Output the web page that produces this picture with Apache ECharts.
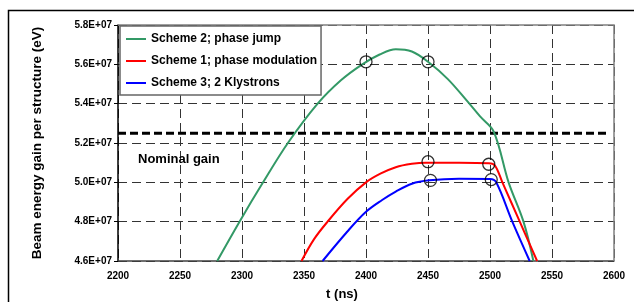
<!DOCTYPE html>
<html>
<head>
<meta charset="utf-8">
<script src="https://cdn.jsdelivr.net/npm/echarts@6/dist/echarts.min.js"></script>
<style>
  html, body { margin: 0; padding: 0; background: #fff; }
  #main { width: 634px; height: 302px; }
</style>
</head>
<body>
<div id="main"></div>
<script>
// series names (legend order)
var schemeNames = ['Scheme 2; phase jump', 'Scheme 1; phase modulation', 'Scheme 3; 2 Klystrons'];

// Scheme 2 - phase jump (t in ns, gain in eV)
var jumpT    = [2280, 2298, 2317, 2337, 2361, 2380, 2397, 2411, 2424, 2437, 2450, 2466, 2482, 2492, 2503, 2515, 2527, 2535];
var jumpGain = [4.60e7, 4.80e7, 5.00e7, 5.20e7, 5.40e7, 5.52e7, 5.60e7, 5.65e7, 5.677e7, 5.665e7, 5.613e7, 5.525e7, 5.41e7, 5.335e7, 5.258e7, 5.00e7, 4.80e7, 4.60e7];

// Scheme 1 - phase modulation
var modT    = [2348, 2358, 2369, 2385, 2400, 2412, 2424, 2437, 2448, 2475, 2499, 2504, 2510, 2524, 2538];
var modGain = [4.60e7, 4.71e7, 4.80e7, 4.915e7, 5.00e7, 5.045e7, 5.077e7, 5.094e7, 5.10e7, 5.10e7, 5.097e7, 5.085e7, 5.00e7, 4.80e7, 4.60e7];

// Scheme 3 - 2 klystrons
var klyT    = [2365, 2385, 2400, 2413, 2424, 2437, 2451, 2475, 2500, 2505, 2518, 2532];
var klyGain = [4.60e7, 4.75e7, 4.85e7, 4.91e7, 4.953e7, 4.993e7, 5.01e7, 5.018e7, 5.017e7, 5.00e7, 4.80e7, 4.60e7];

// open circle markers
var markT    = [2400, 2450, 2450, 2499, 2452, 2501];
var markGain = [5.613e7, 5.613e7, 5.105e7, 5.092e7, 5.01e7, 5.014e7];

// nominal gain line
var nominalGain = 5.25e7;
var nominalT = [2200, 2595];

// axes
var tMin = 2200, tMax = 2600, tStep = 50;
var gMin = 4.6e7, gMax = 5.8e7, gStep = 2e6;

function zip(a, b) {
  var out = [];
  for (var i = 0; i < a.length; i++) out.push([a[i], b[i]]);
  return out;
}

var colors = ['#339966', '#ff0000', '#0000ff'];
var font = 'Liberation Sans, Arial, sans-serif';

var myChart = echarts.init(document.getElementById('main'));

function curve(name, data, color) {
  return {
    name: name,
    type: 'line',
    data: data,
    smooth: 0.35,
    symbol: 'none',
    lineStyle: { color: color, width: 2 },
    itemStyle: { color: color },
    z: 3
  };
}

var option = {
  animation: false,
  backgroundColor: '#fff',
  grid: { left: 118, right: 20, top: 25, bottom: 41, outerBoundsMode: 'none' },
  legend: {
    data: schemeNames,
    orient: 'vertical',
    left: 120,
    top: 26,
    padding: [6, 4, 5, 6],
    itemGap: 8,
    itemWidth: 20,
    itemHeight: 2,
    icon: 'rect',
    backgroundColor: '#fff',
    borderColor: '#666',
    borderWidth: 1.5,
    textStyle: { fontFamily: font, fontWeight: 'bold', fontSize: 12, color: '#000', lineHeight: 14 },
    z: 10
  },
  xAxis: {
    type: 'value',
    min: tMin,
    max: tMax,
    interval: tStep,
    name: 't (ns)',
    nameLocation: 'middle',
    nameGap: 27,
    nameTextStyle: { fontFamily: font, fontWeight: 'bold', fontSize: 13, color: '#000', padding: [0, 48, 0, 0] },
    axisLine: { lineStyle: { color: '#404040', width: 1.5 } },
    axisTick: { show: false },
    axisLabel: {
      fontFamily: font, fontWeight: 'bold', fontSize: 10, color: '#000', margin: 10,
      formatter: function (v) { return String(v); }
    },
    splitLine: { show: true, lineStyle: { color: '#333', width: 1, type: [9, 5] } }
  },
  yAxis: {
    type: 'value',
    min: gMin,
    max: gMax,
    interval: gStep,
    name: 'Beam energy gain per structure (eV)',
    nameLocation: 'middle',
    nameGap: 74,
    nameTextStyle: { fontFamily: font, fontWeight: 'bold', fontSize: 13.5, color: '#000' },
    axisLine: { show: true, lineStyle: { color: '#000', width: 1.5 } },
    axisTick: { show: true, length: 4, lineStyle: { color: '#000' } },
    axisLabel: {
      fontFamily: font, fontWeight: 'bold', fontSize: 10, color: '#000', margin: 6,
      formatter: function (v) { return (v / 1e7).toFixed(1) + 'E+07'; }
    },
    splitLine: { show: true, lineStyle: { color: '#333', width: 1, type: [9, 5] } }
  },
  series: [
    curve(schemeNames[0], zip(jumpT, jumpGain), colors[0]),
    curve(schemeNames[1], zip(modT, modGain), colors[1]),
    curve(schemeNames[2], zip(klyT, klyGain), colors[2]),
    {
      name: 'nominal',
      type: 'line',
      data: zip(nominalT, [nominalGain, nominalGain]),
      symbol: 'none',
      lineStyle: { color: '#000', width: 3, type: [8, 4] },
      z: 2
    },
    {
      name: 'marks',
      type: 'scatter',
      data: zip(markT, markGain),
      symbol: 'circle',
      symbolSize: 12,
      itemStyle: { color: 'rgba(0,0,0,0)', borderColor: '#000', borderWidth: 1.3 },
      z: 5
    }
  ]
};
myChart.setOption(option);

// plot border (top/right gray), outer frame, nominal gain label
var tl = myChart.convertToPixel({ gridIndex: 0 }, [tMin, gMax]);
var br = myChart.convertToPixel({ gridIndex: 0 }, [tMax, gMin]);
myChart.setOption({
  graphic: [
    {
      type: 'polyline', z: 4, silent: true,
      shape: { points: [[tl[0], tl[1]], [br[0], tl[1]], [br[0], br[1]]] },
      style: { stroke: '#808080', lineWidth: 1.5, fill: null }
    },
    {
      type: 'polyline', z: 20, silent: true,
      shape: { points: [[8.5, 302], [8.5, 10.5], [634, 10.5]] },
      style: { stroke: '#000', lineWidth: 1.5, fill: null }
    },
    {
      type: 'text', left: 138, top: 153, z: 6,
      style: { text: 'Nominal gain', font: 'bold 13px ' + font, fill: '#000' }
    }
  ]
});
</script>
</body>
</html>
